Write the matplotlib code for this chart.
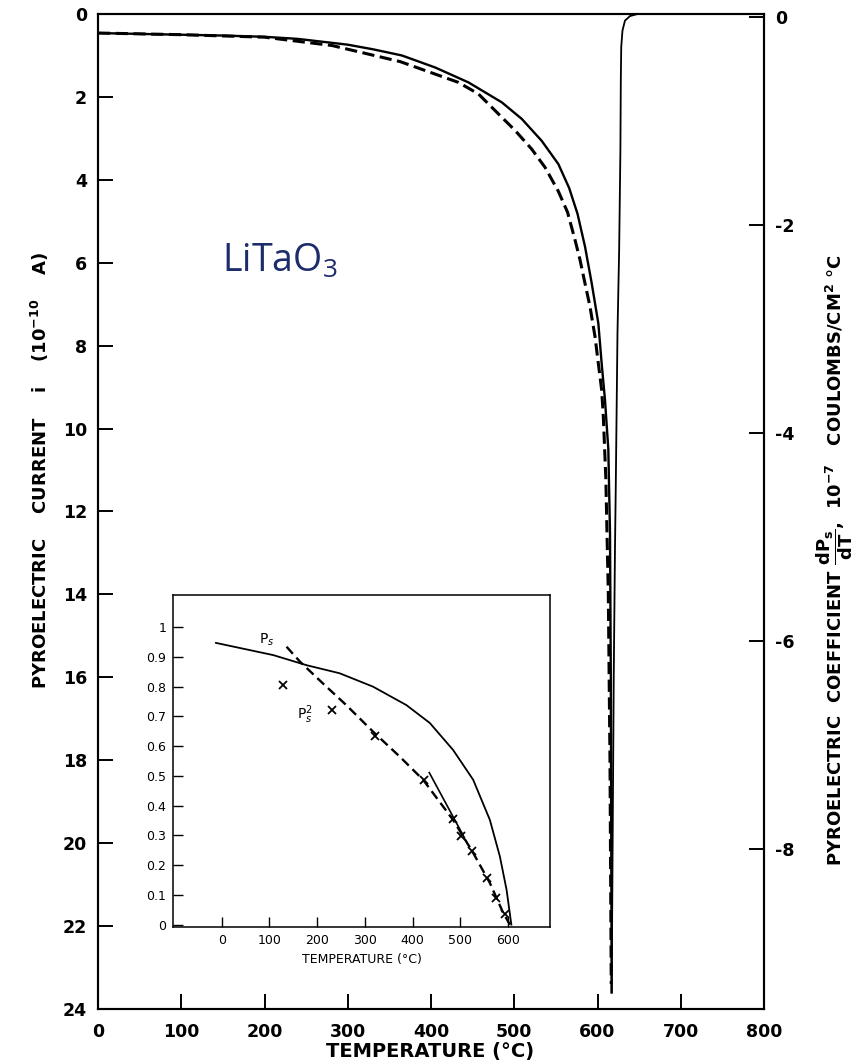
import numpy as np
import matplotlib.pyplot as plt
import matplotlib

matplotlib.rcParams.update({
    "font.family": ["DejaVu Sans"],
    "mathtext.fontset": "dejavusans",
    # used only by the LiTaO3 label (math_fontfamily="custom")
    "mathtext.rm": "Open Sans",
    "mathtext.it": "Open Sans:italic",
    "mathtext.bf": "Open Sans:bold",
    "axes.unicode_minus": False,
    "savefig.dpi": 100,
})

# --- main plot: pyroelectric current (left axis, 1e-10 A), solid
temp_current = [0, 100, 150, 200, 240, 300, 330, 365, 405, 445, 485, 509, 533,
                553, 566, 576, 585, 593, 601, 605, 609, 613, 615, 616, 617]
current = [0.46, 0.50, 0.52, 0.55, 0.60, 0.74, 0.85, 1.0, 1.29, 1.65, 2.13,
           2.53, 3.06, 3.62, 4.20, 4.82, 5.61, 6.49, 7.46, 8.43, 9.31, 10.5,
           12.5, 16.0, 23.6]

# high temperature side of the peak (thin solid)
temp_return = [617, 619.5, 621, 622, 624, 626, 627.5, 628, 628.5, 630, 633,
               639, 648, 800]
current_return = [23.6, 16.0, 12.9, 11.3, 7.7, 5.7, 3.3, 1.6, 0.8, 0.4, 0.16,
                  0.05, 0.0, 0.0]

# pyroelectric coefficient dPs/dT (right axis, 1e-7 C/cm^2 °C), dashed
temp_coeff = [0, 100, 200, 281, 363, 405, 433, 457, 481, 501, 521, 537, 553,
              564, 573, 579, 585, 591, 597, 601, 605, 607, 610, 613, 615, 616.5]
coeff = [-0.153, -0.169, -0.193, -0.273, -0.428, -0.548, -0.628, -0.739,
         -0.931, -1.090, -1.270, -1.445, -1.676, -1.876, -2.143, -2.334,
         -2.562, -2.785, -3.072, -3.331, -3.586, -3.841, -4.435, -5.552,
         -7.147, -9.300]

left_ticks = np.arange(0, 25, 2)
right_ticks = [0, -2, -4, -6, -8]
x_ticks = np.arange(0, 801, 100)

# --- inset: Ps and Ps^2 (normalised) vs temperature
inset_temp_ps = [-12, 108, 178, 247, 317, 387, 436, 485, 527, 562, 583, 597, 607]
inset_ps = [0.947, 0.906, 0.872, 0.845, 0.800, 0.738, 0.678, 0.587, 0.487,
            0.352, 0.229, 0.117, 0.0]
inset_temp_ps2 = [136, 164, 212, 261, 317, 373, 422, 485, 527, 562, 590, 604]
inset_ps2 = [0.934, 0.884, 0.811, 0.738, 0.649, 0.565, 0.487, 0.352, 0.241,
             0.140, 0.039, 0.0]
inset_temp_pts = [129, 232, 322, 424, 485, 502, 525, 555, 574, 593]
inset_pts = [0.805, 0.721, 0.634, 0.487, 0.355, 0.299, 0.246, 0.157, 0.090, 0.037]
inset_temp_seg = [435, 509]
inset_seg = [0.511, 0.291]

inset_yticks = np.round(np.arange(0, 1.01, 0.1), 1)
inset_ylabels = ["0"] + ["%.1f" % v for v in inset_yticks[1:-1]] + ["1"]
inset_xticks = np.arange(0, 601, 100)

fig = plt.figure(figsize=(8.59, 10.64), dpi=100)
ax = fig.add_axes([98 / 859, 1 - 1009 / 1064, 666 / 859, 995 / 1064])

ax.plot(temp_current, current, color="black", lw=1.7, solid_joinstyle="round")
ax.plot(temp_return, current_return, color="black", lw=1.3)
ax.set_xlim(0, 800)
ax.set_ylim(24, 0)
ax.set_xticks(x_ticks)
ax.set_yticks(left_ticks)
ax.tick_params(direction="in", length=11, width=1.4, labelsize=12.5, pad=8)
ax.tick_params(axis="x", pad=10)
for lab in ax.get_xticklabels() + ax.get_yticklabels():
    lab.set_fontweight("bold")
for s in ax.spines.values():
    s.set_linewidth(1.5)

ax2 = ax.twinx()
ax2.plot(temp_coeff, coeff, color="black", lw=2.2, dashes=(4, 1.8))
ax2.set_ylim(-9.54, 0.03)
ax2.set_yticks(right_ticks)
ax2.tick_params(direction="in", length=11, width=1.4, labelsize=12.5, pad=8)
for lab in ax2.get_yticklabels():
    lab.set_fontweight("bold")
for s in ax2.spines.values():
    s.set_linewidth(1.5)

fig.text(430 / 859, 1 - 1052 / 1064, "TEMPERATURE (°C)", ha="center",
         va="center", fontsize=14, fontweight="bold")
fig.text(40 / 859, 1 - 470 / 1064,
         "PYROELECTRIC    CURRENT    i    (10$^{\\mathbf{-10}}$    A)",
         rotation=90, ha="center", va="center", fontsize=13, fontweight="bold")
fig.text(835 / 859, 1 - 560 / 1064,
         r"PYROELECTRIC  COEFFICIENT $\mathbf{\dfrac{dP_s}{dT}}$,  10$^{\mathbf{-7}}$   COULOMBS/CM$^{\mathbf{2}}$ °C",
         rotation=90, ha="center", va="center", fontsize=13, fontweight="bold")

fig.text(222 / 859, 1 - 272 / 1064, r"$\mathrm{LiTaO}_3$", math_fontfamily="custom",
         ha="left", va="baseline", fontsize=27, color="#1d2d6b")

# inset
axi = fig.add_axes([173 / 859, 1 - 927 / 1064, 377 / 859, 332 / 1064])
axi.plot(inset_temp_ps, inset_ps, color="black", lw=1.3)
axi.plot(inset_temp_ps2, inset_ps2, color="black", lw=1.7, dashes=(4, 2.2))
axi.plot(inset_temp_seg, inset_seg, color="black", lw=1.2)
axi.plot(inset_temp_pts, inset_pts, ls="none", marker="x", ms=6, mew=1.3,
         color="black")
axi.text(94, 0.956, "P$_s$", fontsize=10, ha="center", va="center")
axi.text(174, 0.705, "P$_s^2$", fontsize=10, ha="center", va="center")
axi.set_xlim(-102, 688)
axi.set_ylim(-0.008, 1.108)
axi.set_xticks(inset_xticks)
axi.set_yticks(inset_yticks)
axi.set_yticklabels(inset_ylabels)
axi.tick_params(direction="in", length=7, width=1.0, labelsize=9, pad=5)
axi.set_xlabel("TEMPERATURE (°C)", fontsize=9, labelpad=4)
for s in axi.spines.values():
    s.set_linewidth(1.1)

plt.savefig("out.png")
